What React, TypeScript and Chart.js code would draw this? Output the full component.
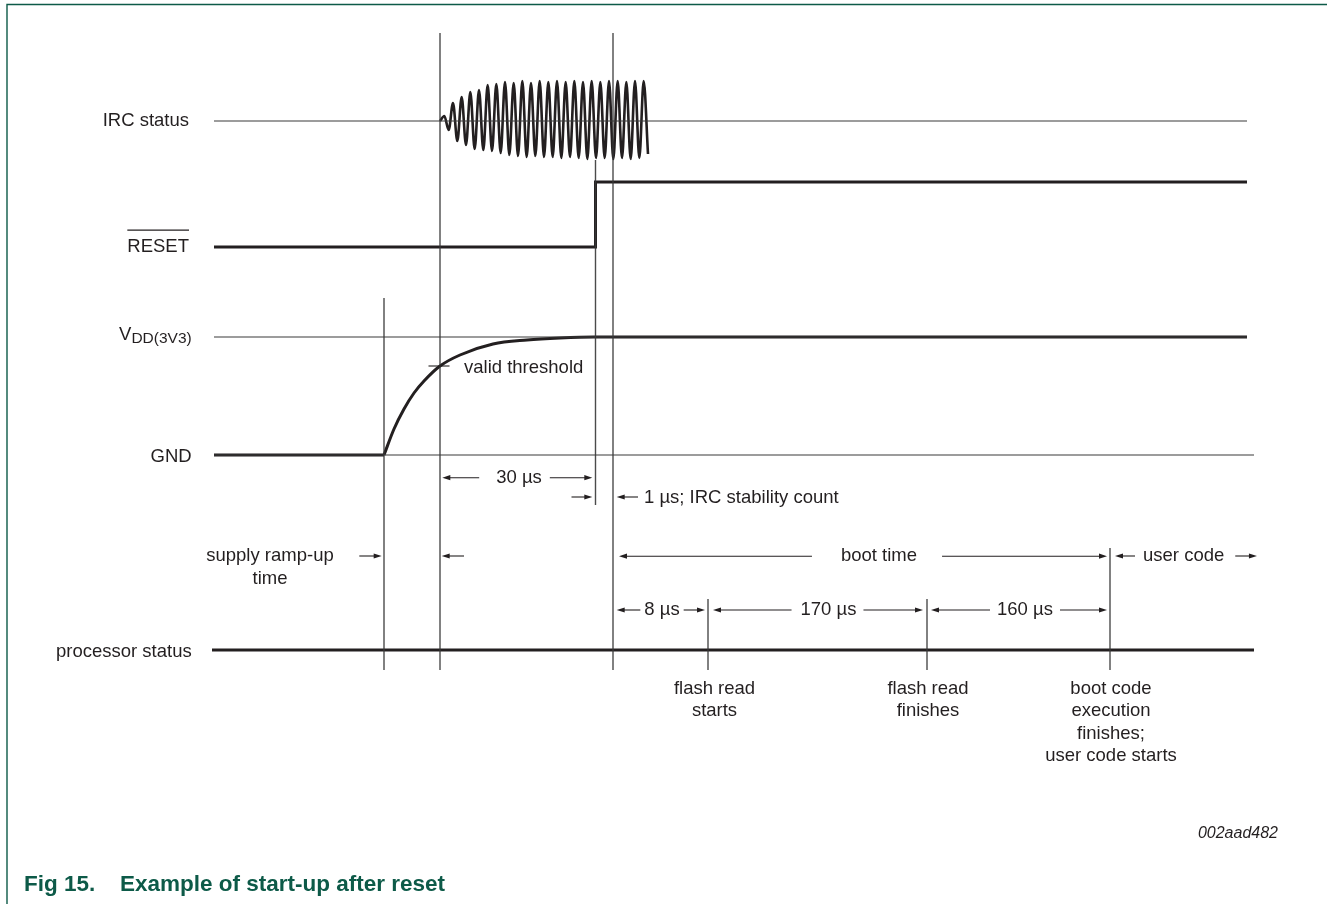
import React, { useEffect, useRef } from "react";
import { Chart, registerables } from "chart.js";

Chart.register(...registerables);

// ---------------- data (schematic time units / signal levels) ----------------
const T_START = 0;
const T_PROC_START = -0.2;
const T_RAMP = 17; // supply ramp starts
const T_IRC = 22.6; // IRC starts / valid threshold
const T_RESET = 38.15; // RESET released
const T_BOOT = 39.9; // boot starts
const T_FLASH_START = 49.4;
const T_FLASH_END = 71.3;
const T_USER = 89.6; // user code starts
const T_END = 103.3;
const T_LONG_END = 104.0;

const SIGNAL_LABELS = ["IRC status", "RESET", "V", "GND", "processor status"];
const SIGNAL_LEVELS = [60, 47.4, 38.4, 26.6, 7.1];
const VDD_SUBSCRIPT = "DD(3V3)";

const IRC_LEVEL = 60;
const RESET_LEVELS = [47.4, 53.9]; // low, high
const VDD_LEVEL = 38.4;
const GND_LEVEL = 26.6;
const PROC_LEVEL = 7.1;
const THRESHOLD_LEVEL = 35.5;

// IRC burst: start/end time and successive peak deviations
const IRC_BURST = [22.6, 43.4];
const IRC_PEAKS = [
  0.5, -0.9, 1.8, -2.0, 2.4, -2.4, 2.9, -2.8, 3.1, -2.9, 3.6, -3.0,
  3.7, -3.2, 3.9, -3.4, 3.8, -3.5, 4.0, -3.6, 3.8, -3.5, 4.0, -3.6,
  3.9, -3.6, 4.0, -3.7, 3.9, -3.6, 4.0, -3.7, 3.9, -3.8, 4.0, -3.7,
  3.9, -3.7, 4.0, -3.8, 4.0, -3.7, 3.9, -3.8, 4.0, -3.7, 4.0, -3.3,
];

// VDD ramp
const VDD_RAMP_T = [17.0, 18.0, 19.0, 20.0, 21.0, 22.6, 24.6, 27.9, 31.3, 34.6, 38.0];
const VDD_RAMP_V = [26.6, 29.2, 31.2, 32.8, 34.0, 35.5, 36.6, 37.7, 38.1, 38.3, 38.4];

// vertical event markers
const MARKER_T = [T_RAMP, T_IRC, T_RESET, T_BOOT, T_FLASH_START, T_FLASH_END, T_USER];
const MARKER_TOP = [42.3, 68.8, 56.1, 68.8, 12.2, 12.2, 17.3];
const MARKER_BOTTOM = [5.1, 5.1, 21.6, 5.1, 5.1, 5.1, 5.1];

// time spans
const SPAN_LABELS = ["30 µs", "boot time", "8 µs", "170 µs", "160 µs"];
const SPAN_FROM = [T_IRC, T_BOOT, T_BOOT, T_FLASH_START, T_FLASH_END];
const SPAN_TO = [T_RESET, T_USER, T_FLASH_START, T_FLASH_END, T_USER];

const STABILITY_LABEL = "1 µs; IRC stability count";
const RAMP_LABEL = ["supply ramp-up", "time"];
const USER_LABEL = "user code";
const THRESHOLD_LABEL = "valid threshold";

const EVENT_CAPTION_T = [T_FLASH_START, T_FLASH_END, T_USER];
const EVENT_CAPTIONS = [
  ["flash read", "starts"],
  ["flash read", "finishes"],
  ["boot code", "execution", "finishes;", "user code starts"],
];

const FIG_NUMBER = "Fig 15.";
const FIG_TITLE = "Example of start-up after reset";
const FIG_CODE = "002aad482";

// ---------------- styles ----------------
const INK = "#231f20";
const MARKER_INK = "rgba(55,55,55,0.9)";
const GREEN = "#0d5a48";
const FONT = (s: number, w = "normal", st = "normal") =>
  `${st} ${w} ${s}px "Liberation Sans", Arial, Helvetica, sans-serif`;

const pts = (xs: number[], ys: number[]) => xs.map((x, i) => ({ x, y: ys[i] }));

function arrow(ctx: CanvasRenderingContext2D, xFrom: number, xTo: number, y: number) {
  const dir = Math.sign(xTo - xFrom);
  const hl = 8;
  const hw = 2.6;
  ctx.beginPath();
  ctx.moveTo(xFrom, y);
  ctx.lineTo(xTo - dir * hl * 0.5, y);
  ctx.stroke();
  ctx.beginPath();
  ctx.moveTo(xTo, y);
  ctx.lineTo(xTo - dir * hl, y - hw);
  ctx.lineTo(xTo - dir * hl, y + hw);
  ctx.closePath();
  ctx.fill();
}

const annotations = {
  id: "timingAnnotations",
  afterDatasetsDraw(chart: any) {
    const ctx: CanvasRenderingContext2D = chart.ctx;
    const xs = chart.scales.x;
    const ys = chart.scales.y;
    const X = (t: number) => xs.getPixelForValue(t);
    const Y = (v: number) => ys.getPixelForValue(v);
    ctx.save();
    ctx.fillStyle = INK;
    ctx.strokeStyle = INK;
    ctx.textBaseline = "alphabetic";

    // ---- left signal labels ----
    const labelRight = X(T_START) - 25;
    const baseOff = [5.3, 4.7, 2.7, 6.7, 7.2];
    ctx.font = FONT(18.5);
    SIGNAL_LABELS.forEach((lab, i) => {
      const yb = Y(SIGNAL_LEVELS[i]) + baseOff[i];
      if (i === 2) {
        ctx.font = FONT(15.5);
        const ws = ctx.measureText(VDD_SUBSCRIPT).width;
        ctx.font = FONT(18.5);
        const wv = ctx.measureText(lab).width;
        const r = labelRight + 2.7;
        ctx.textAlign = "left";
        ctx.fillText(lab, r - ws - wv, yb);
        ctx.font = FONT(15.5);
        ctx.fillText(VDD_SUBSCRIPT, r - ws, yb + 3.5);
        ctx.font = FONT(18.5);
        return;
      }
      ctx.textAlign = "right";
      const r = i >= 3 ? labelRight + 2.7 : labelRight;
      ctx.fillText(lab, r, yb);
      if (i === 1) {
        const w = ctx.measureText(lab).width;
        ctx.lineWidth = 1.3;
        ctx.beginPath();
        ctx.moveTo(r - w, yb - 21.5);
        ctx.lineTo(r, yb - 21.5);
        ctx.stroke();
      }
    });

    // ---- valid threshold tick + label ----
    ctx.lineWidth = 1.1;
    ctx.beginPath();
    ctx.moveTo(X(T_IRC) - 11.5, Y(THRESHOLD_LEVEL));
    ctx.lineTo(X(T_IRC) + 9.5, Y(THRESHOLD_LEVEL));
    ctx.stroke();
    ctx.textAlign = "left";
    ctx.fillText(THRESHOLD_LABEL, X(T_IRC) + 24, Y(THRESHOLD_LEVEL) + 7);

    // ---- spans with "<- label ->" ----
    ctx.lineWidth = 1.1;
    const spanCenter = [30.5, 66.5, 44.8, 61.45, 81.1];
    const spanRow = [24.33, 16.48, 11.1, 11.1, 11.1];
    const gapL = [17, 29, 4, 9, 7];
    const gapR = [8, 25, 4, 7, 7];
    const padFrom = [2.3, 6, 3.7, 5, 4];
    const padTo = [3.2, 3, 3, 4, 3];
    SPAN_LABELS.forEach((lab, i) => {
      const cx = X(spanCenter[i]);
      const y = Y(spanRow[i]);
      const w = ctx.measureText(lab).width;
      ctx.textAlign = "center";
      ctx.fillText(lab, cx, y + 5);
      arrow(ctx, cx - w / 2 - gapL[i], X(SPAN_FROM[i]) + padFrom[i], y);
      arrow(ctx, cx + w / 2 + gapR[i], X(SPAN_TO[i]) - padTo[i], y);
    });

    // ---- 1 µs stability (outside arrows) ----
    {
      const y = Y(22.4);
      arrow(ctx, X(T_RESET) - 24, X(T_RESET) - 3.2, y);
      arrow(ctx, X(T_BOOT) + 25, X(T_BOOT) + 3.7, y);
      ctx.textAlign = "left";
      ctx.fillText(STABILITY_LABEL, X(T_BOOT) + 31, y + 5.7);
    }

    // ---- supply ramp-up (outside arrows) ----
    {
      const y = Y(16.5);
      arrow(ctx, X(T_RAMP) - 24.7, X(T_RAMP) - 2.3, y);
      arrow(ctx, X(T_IRC) + 24, X(T_IRC) + 1.7, y);
      ctx.textAlign = "center";
      const cx = X(5.6);
      ctx.fillText(RAMP_LABEL[0], cx, y + 5);
      ctx.fillText(RAMP_LABEL[1], cx, y + 28);
    }

    // ---- user code ----
    {
      const y = Y(16.5);
      arrow(ctx, X(T_USER) + 25, X(T_USER) + 5, y);
      ctx.textAlign = "left";
      const tx = X(T_USER) + 33;
      ctx.fillText(USER_LABEL, tx, y + 4.7);
      const w = ctx.measureText(USER_LABEL).width;
      arrow(ctx, tx + w + 11, tx + w + 32.7, y);
    }

    // ---- event captions below processor status ----
    ctx.textAlign = "center";
    EVENT_CAPTIONS.forEach((lines, i) => {
      const cx = X(EVENT_CAPTION_T[i]) + (i === 0 ? 6.5 : 1);
      lines.forEach((ln, k) => {
        ctx.fillText(ln, cx, Y(PROC_LEVEL) + 43.5 + k * 22.5);
      });
    });

    ctx.restore();
  },
  afterDraw(chart: any) {
    const ctx: CanvasRenderingContext2D = chart.ctx;
    const W = chart.width;
    const H = chart.height;
    ctx.save();
    // figure frame
    ctx.strokeStyle = GREEN;
    ctx.lineWidth = 1.4;
    ctx.beginPath();
    ctx.moveTo(7, H);
    ctx.lineTo(7, 4.5);
    ctx.lineTo(W, 4.5);
    ctx.stroke();
    // figure code
    ctx.fillStyle = INK;
    ctx.font = FONT(16, "normal", "italic");
    ctx.textAlign = "right";
    ctx.textBaseline = "alphabetic";
    ctx.fillText(FIG_CODE, 1278, 838);
    // caption
    ctx.fillStyle = GREEN;
    ctx.font = FONT(22.5, "bold");
    ctx.textAlign = "left";
    ctx.fillText(FIG_NUMBER, 24, 891);
    ctx.fillText(FIG_TITLE, 120, 891);
    ctx.restore();
  },
};

export default function App() {
  const ref = useRef<HTMLCanvasElement>(null);

  useEffect(() => {
    if (!ref.current) return;

    const ircWave = [
      { x: IRC_BURST[0], y: IRC_LEVEL },
      ...IRC_PEAKS.map((d, i) => ({
        x: IRC_BURST[0] + ((i + 1) * (IRC_BURST[1] - IRC_BURST[0])) / IRC_PEAKS.length,
        y: IRC_LEVEL + d,
      })),
    ];

    const thin = (data: any[], w = 1.2) => ({
      data,
      showLine: true,
      borderColor: "#3a3a3a",
      borderWidth: w,
      pointRadius: 0,
      clip: false,
    });
    const thick = (data: any[], extra: any = {}) => ({
      data,
      showLine: true,
      borderColor: INK,
      borderWidth: 3,
      pointRadius: 0,
      borderCapStyle: "butt",
      borderJoinStyle: "miter",
      clip: false,
      ...extra,
    });

    const markerSets = MARKER_T.map((t, i) => ({
      data: [
        { x: t, y: MARKER_BOTTOM[i] },
        { x: t, y: MARKER_TOP[i] },
      ],
      showLine: true,
      borderColor: MARKER_INK,
      borderWidth: 1.4,
      pointRadius: 0,
      clip: false,
    }));

    const chart = new Chart(ref.current, {
      type: "scatter",
      data: {
        datasets: [
          thin(pts([T_START, T_END], [IRC_LEVEL, IRC_LEVEL])),
          thin(pts([T_START, T_END], [VDD_LEVEL, VDD_LEVEL])),
          thin(pts([T_START, T_LONG_END], [GND_LEVEL, GND_LEVEL])),
          ...markerSets,
          thick(
            pts(
              [T_START, T_RESET, T_RESET, T_END],
              [RESET_LEVELS[0], RESET_LEVELS[0], RESET_LEVELS[1], RESET_LEVELS[1]]
            )
          ),
          thick(pts([T_START, T_RAMP], [GND_LEVEL, GND_LEVEL])),
          thick(pts([...VDD_RAMP_T, T_END], [...VDD_RAMP_V, VDD_LEVEL]), {
            cubicInterpolationMode: "monotone",
          }),
          thick(pts([T_PROC_START, T_LONG_END], [PROC_LEVEL, PROC_LEVEL])),
          {
            data: ircWave,
            showLine: true,
            borderColor: INK,
            borderWidth: 2.6,
            pointRadius: 0,
            cubicInterpolationMode: "monotone",
            clip: false,
          },
        ] as any,
      },
      options: {
        animation: false,
        responsive: false,
        events: [],
        layout: { padding: { left: 204, right: 63, top: 21, bottom: 183 } },
        plugins: { legend: { display: false }, tooltip: { enabled: false } },
        scales: {
          x: { type: "linear", min: -1, max: 105, display: false },
          y: { type: "linear", min: 0, max: 70, display: false },
        },
      },
      plugins: [annotations],
    });
    return () => chart.destroy();
  }, []);

  return (
    <div
      style={{
        position: "absolute",
        left: 0,
        top: 0,
        width: 1327,
        height: 904,
        background: "#ffffff",
      }}
    >
      <canvas ref={ref} width={1327} height={904} style={{ display: "block", width: 1327, height: 904 }} />
    </div>
  );
}
